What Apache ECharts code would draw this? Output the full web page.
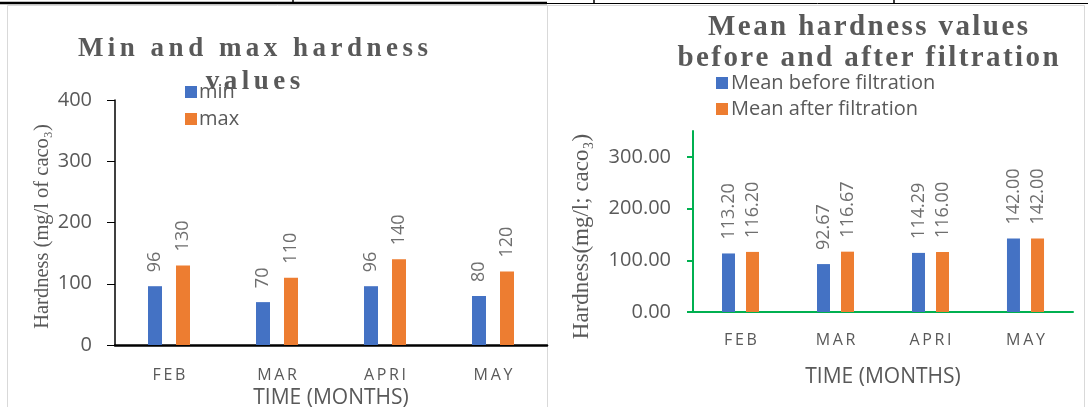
<!DOCTYPE html>
<html>
<head>
<meta charset="utf-8">
<script src="https://cdn.jsdelivr.net/npm/echarts@6/dist/echarts.min.js"></script>
<style>
  html, body { margin: 0; padding: 0; background: #fff; }
  #chart { width: 1088px; height: 407px; }
</style>
</head>
<body>
<div id="chart"></div>
<script>
// Monthly hardness readings
const months = ['FEB', 'MAR', 'APRI', 'MAY'];
const minValues = [96, 70, 96, 80];
const maxValues = [130, 110, 140, 120];
const meanBefore = [113.20, 92.67, 114.29, 142.00];
const meanAfter = [116.20, 116.67, 116.00, 142.00];
const leftTicks = [0, 100, 200, 300, 400];
const rightTicks = [0, 100, 200, 300];

const BLUE = '#4472C4';
const ORANGE = '#ED7D31';
const GREEN = '#00B050';
const GREY = '#595959';
const SANS = 'Open Sans';
const SERIF = 'Liberation Serif';

// widen letters with narrow spaces (tracked headings and month labels)
const track = (s, sp) => s.split('').join(sp || '\u2009');
const HAIR = '\u200A';
const SIXTH = '\u2006';

const chart = echarts.init(document.getElementById('chart'), null, { renderer: 'canvas' });

function barLabel(fmt) {
  return {
    show: true,
    position: 'top',
    rotate: 90,
    align: 'left',
    verticalAlign: 'middle',
    distance: 14,
    fontFamily: SANS,
    fontSize: 18,
    color: '#6f6f6f',
    formatter: p => fmt(p.value)
  };
}

const option = {
  backgroundColor: '#fff',
  animation: false,
  title: [
    {
      text: track('Min and max hardness', SIXTH) + '\n' + track('values', SIXTH),
      left: 248, top: 28, textAlign: 'center',
      textStyle: { fontFamily: SERIF, fontWeight: 'bold', fontSize: 27, color: GREY, lineHeight: 33 }
    },
    {
      text: track('Mean hardness values', HAIR) + '\n' + track('before and after filtration', HAIR),
      left: 863, top: 7, textAlign: 'center',
      textStyle: { fontFamily: SERIF, fontWeight: 'bold', fontSize: 29, color: GREY, lineHeight: 31 }
    }
  ],
  legend: [
    {
      data: ['min', 'max'], orient: 'vertical', left: 180, top: 77,
      icon: 'rect', itemWidth: 12, itemHeight: 12, itemGap: 7,
      textStyle: { fontFamily: SANS, fontSize: 20, color: GREY, padding: [0, 0, 0, -3] }
    },
    {
      data: ['Mean before filtration', 'Mean after filtration'], orient: 'vertical', left: 711, top: 68,
      icon: 'rect', itemWidth: 12, itemHeight: 12, itemGap: 6,
      textStyle: { fontFamily: SANS, fontSize: 20, color: GREY, padding: [0, 0, 0, -2] }
    }
  ],
  grid: [
    { left: 115, right: 541, top: 100, bottom: 62, outerBoundsMode: 'none' },
    { left: 693, right: 15, top: 131, bottom: 95, outerBoundsMode: 'none' }
  ],
  xAxis: [
    {
      type: 'category', gridIndex: 0, data: months,
      axisLine: { lineStyle: { color: '#000', width: 2.5 } },
      axisTick: { show: false },
      axisLabel: { margin: 22, fontFamily: SANS, fontSize: 16, color: GREY, formatter: v => track(v) },
      name: 'TIME (MONTHS)', nameLocation: 'middle', nameGap: 31,
      nameTextStyle: { fontFamily: SANS, fontSize: 21, color: GREY }
    },
    {
      type: 'category', gridIndex: 1, data: months,
      axisLine: { lineStyle: { color: GREEN, width: 2 } },
      axisTick: { show: false },
      axisLabel: { margin: 20, fontFamily: SANS, fontSize: 16, color: GREY, formatter: v => track(v) },
      name: 'TIME (MONTHS)', nameLocation: 'middle', nameGap: 55,
      nameTextStyle: { fontFamily: SANS, fontSize: 21, color: GREY }
    }
  ],
  yAxis: [
    {
      type: 'value', gridIndex: 0, min: 0, max: 400, interval: 100,
      axisLine: { show: true, lineStyle: { color: '#000', width: 1.5 } },
      axisTick: { show: true, length: 8, lineStyle: { color: '#000', width: 1 }, customValues: leftTicks },
      axisLabel: { margin: 23, fontFamily: SANS, fontSize: 20, color: GREY, customValues: leftTicks },
      splitLine: { show: false },
      name: 'Hardness (mg/l of caco₃)', nameLocation: 'middle', nameGap: 62,
      nameTextStyle: { fontFamily: SERIF, fontSize: 20.5, color: GREY, padding: [0, 8, 0, 0] }
    },
    {
      type: 'value', gridIndex: 1, min: 0, max: 350,
      axisLine: { show: true, lineStyle: { color: GREEN, width: 2 } },
      axisTick: { show: true, length: 6, lineStyle: { color: GREEN, width: 2 }, customValues: rightTicks },
      axisLabel: { margin: 22, fontFamily: SANS, fontSize: 20, color: GREY, customValues: rightTicks,
                   formatter: v => Number(v).toFixed(2) },
      splitLine: { show: false },
      name: 'Hardness(mg/l; caco₃)', nameLocation: 'middle', nameGap: 100,
      nameTextStyle: { fontFamily: SERIF, fontSize: 23, color: GREY, padding: [0, 30, 0, 0] }
    }
  ],
  series: [
    { name: 'min', type: 'bar', xAxisIndex: 0, yAxisIndex: 0, data: minValues,
      barWidth: 14, barGap: '100%', itemStyle: { color: BLUE }, label: barLabel(v => String(v)) },
    { name: 'max', type: 'bar', xAxisIndex: 0, yAxisIndex: 0, data: maxValues,
      barWidth: 14, barGap: '100%', itemStyle: { color: ORANGE }, label: barLabel(v => String(v)) },
    { name: 'Mean before filtration', type: 'bar', xAxisIndex: 1, yAxisIndex: 1, data: meanBefore,
      barWidth: 13, barGap: '85%', itemStyle: { color: BLUE }, label: barLabel(v => v.toFixed(2)) },
    { name: 'Mean after filtration', type: 'bar', xAxisIndex: 1, yAxisIndex: 1, data: meanAfter,
      barWidth: 13, barGap: '85%', itemStyle: { color: ORANGE }, label: barLabel(v => v.toFixed(2)) }
  ],
  graphic: [
    // chart frames
    { type: 'rect', silent: true, z: -1, shape: { x: 7.5, y: 5.5, width: 540, height: 420 },
      style: { fill: null, stroke: '#D9D9D9', lineWidth: 1 } },
    { type: 'rect', silent: true, z: -1, shape: { x: 547.5, y: 5.5, width: 537, height: 420 },
      style: { fill: null, stroke: '#D9D9D9', lineWidth: 1 } },
    // table rules along the top edge
    { type: 'line', silent: true, shape: { x1: 0, y1: 3, x2: 547, y2: 3 },
      style: { stroke: '#000', lineWidth: 2.5 } },
    { type: 'line', silent: true, shape: { x1: 547, y1: 3.5, x2: 1088, y2: 3.5 },
      style: { stroke: '#000', lineWidth: 1 } },
    { type: 'line', silent: true, shape: { x1: 293, y1: 0, x2: 293, y2: 4 },
      style: { stroke: '#000', lineWidth: 1.5 } },
    { type: 'line', silent: true, shape: { x1: 594, y1: 0, x2: 594, y2: 4 },
      style: { stroke: '#000', lineWidth: 1.5 } },
    { type: 'line', silent: true, shape: { x1: 894, y1: 0, x2: 894, y2: 4 },
      style: { stroke: '#000', lineWidth: 1.5 } }
  ]
};

chart.setOption(option);
</script>
</body>
</html>
